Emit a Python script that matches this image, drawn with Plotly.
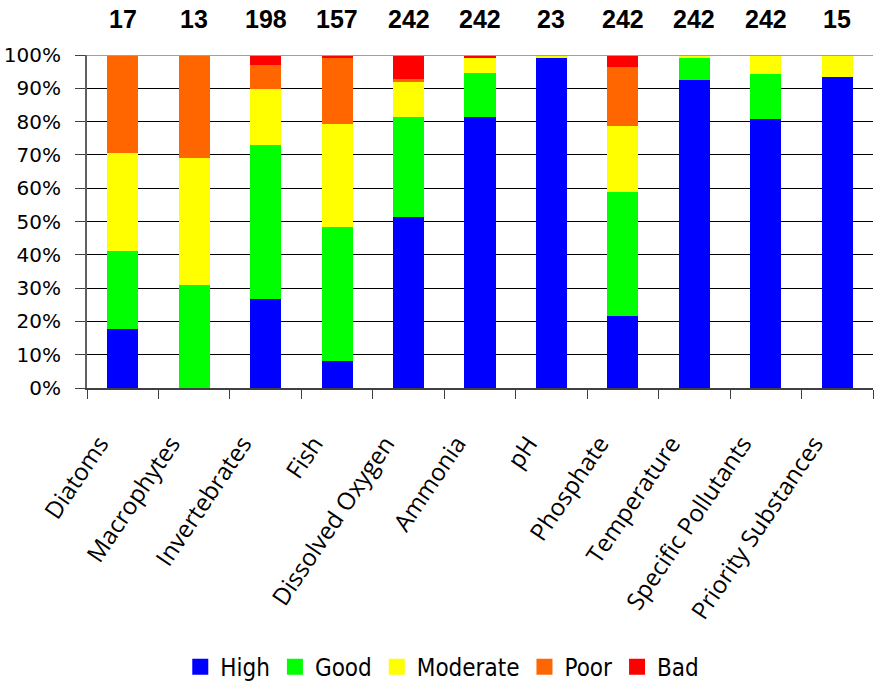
import plotly.graph_objects as go

categories = ["Diatoms", "Macrophytes", "Invertebrates", "Fish", "Dissolved Oxygen",
              "Ammonia", "pH", "Phosphate", "Temperature", "Specific Pollutants",
              "Priority Substances"]
counts = [17, 13, 198, 157, 242, 242, 23, 242, 242, 242, 15]

high     = [17.6, 0.0, 26.8, 8.0, 51.4, 81.3, 99.1, 21.7, 92.5, 80.9, 93.4]
good     = [23.5, 30.8, 46.2, 40.3, 30.0, 13.2, 0.0, 37.1, 6.6, 13.4, 0.0]
moderate = [29.5, 38.4, 16.7, 31.0, 10.6, 4.5, 0.9, 19.9, 0.9, 5.7, 6.6]
poor     = [29.4, 30.8, 7.3, 19.8, 0.8, 0.0, 0.0, 17.7, 0.0, 0.0, 0.0]
bad      = [0.0, 0.0, 3.0, 0.9, 7.2, 1.0, 0.0, 3.6, 0.0, 0.0, 0.0]

series = [("High", high, "#0000FF"), ("Good", good, "#00FF00"),
          ("Moderate", moderate, "#FFFF00"), ("Poor", poor, "#FF6600"),
          ("Bad", bad, "#FF0000")]

fig = go.Figure()
for name, vals, col in series:
    fig.add_trace(go.Bar(x=categories, y=vals, name=name, marker_color=col,
                         marker_line_width=0, showlegend=False))
for name, vals, col in series:
    fig.add_trace(go.Scatter(x=[None], y=[None], mode="markers", name=name,
                             marker=dict(symbol="square", size=19, color=col)))

for c, n in zip(categories, counts):
    fig.add_annotation(x=c, y=1.108, xref="x", yref="paper", text=str(n),
                       showarrow=False, yanchor="middle",
                       font=dict(family="Liberation Sans", size=25, color="black", weight="bold"))

fig.add_shape(type="line", xref="paper", yref="y", x0=0, x1=1, y0=100, y1=100,
              line=dict(color="#A0A0A0", width=2))

fig.update_layout(
    barmode="stack", bargap=0.566,
    width=874, height=684,
    margin=dict(l=87, r=1, t=55, b=296, autoexpand=False),
    plot_bgcolor="white", paper_bgcolor="white",
    legend=dict(orientation="h", x=0.452, xanchor="center", y=-0.838, yanchor="middle",
                font=dict(family="DejaVu Sans Condensed", size=24, color="black"),
                traceorder="normal", itemwidth=30, tracegroupgap=0),
    xaxis=dict(tickangle=-56, tickfont=dict(family="Open Sans", size=24, color="black"),
               automargin=False, ticklabelstandoff=30, ticklabelshift=-23,
               showline=True, linecolor="#404040", linewidth=2,
               ticks="outside", tickson="boundaries", ticklen=9, tickcolor="#404040",
               showgrid=False),
    yaxis=dict(range=[0, 100], dtick=10, ticksuffix="%", automargin=False,
               tickfont=dict(family="DejaVu Sans", size=20, color="black"),
               ticklabelstandoff=10,
               showline=True, linecolor="#606060", linewidth=2,
               ticks="outside", ticklen=10, tickcolor="#404040",
               showgrid=True, gridcolor="#000000", gridwidth=1, zeroline=False),
)

fig.write_html("out.html", config={"displayModeBar": False},
               post_script="document.body.style.margin='0';document.body.style.overflow='hidden';")
